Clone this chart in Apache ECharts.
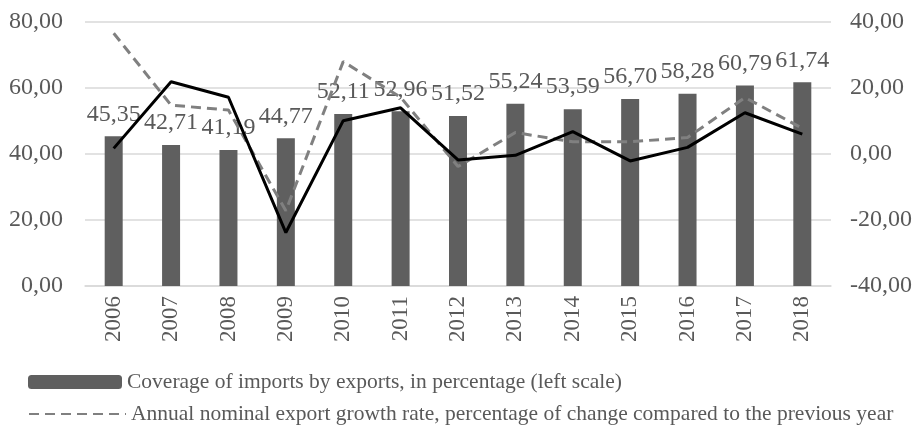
<!DOCTYPE html>
<html><head><meta charset="utf-8">
<script src="https://cdn.jsdelivr.net/npm/echarts@6/dist/echarts.min.js"></script>
<style>html,body{margin:0;padding:0;background:#fff}#c{width:916px;height:436px}</style>
</head><body><div id="c"></div>
<script>
const years = ['2006','2007','2008','2009','2010','2011','2012','2013','2014','2015','2016','2017','2018'];
const coverage = [45.35,42.71,41.19,44.77,52.11,52.96,51.52,55.24,53.59,56.70,58.28,60.79,61.74];
const exportGrowth = [36.6,14.8,13.3,-17.2,28.0,17.2,-3.8,6.5,3.7,3.7,5.0,17.1,7.8];
const importGrowth = [1.7,21.9,17.2,-23.8,10.1,14.0,-1.8,-0.4,6.8,-2.1,2.0,12.5,6.0];
const leftTicks = {min:0,max:80,interval:20};
const rightTicks = {min:-40,max:40,interval:20};
const names = ['Coverage of imports by exports, in percentage (left scale)',
  'Annual nominal export growth rate, percentage of change compared to the previous year',
  'Annual nominal import growth rate'];
const fmt = v => v.toFixed(2).replace('.', ',');
const FONT = '"Liberation Serif", "Times New Roman", serif';
const TXT = '#595959';
const legendText = {fontFamily:FONT,fontSize:21.5,color:TXT};
const chart = echarts.init(document.getElementById('c'));
chart.setOption({
  animation:false,
  textStyle:{fontFamily:FONT},
  grid:{left:85,right:85,top:22,bottom:150},
  legend:[
    {data:[names[0]],left:23,top:366,itemWidth:94,itemHeight:14,itemGap:6,textStyle:legendText},
    {data:[{name:names[1],itemStyle:{opacity:0}}],left:23,top:398,itemWidth:97,itemHeight:14,textStyle:legendText}
  ],
  xAxis:{type:'category',data:years,axisLine:{lineStyle:{color:'#d9d9d9',width:1.5}},axisTick:{show:false},
    axisLabel:{rotate:90,fontFamily:FONT,fontSize:23,color:TXT,margin:10}},
  yAxis:[
    {type:'value',...leftTicks,axisLabel:{formatter:fmt,fontFamily:FONT,fontSize:24,color:TXT,margin:22},
     splitLine:{lineStyle:{color:'#d9d9d9',width:1.5}},axisLine:{show:false},axisTick:{show:false}},
    {type:'value',...rightTicks,axisLabel:{formatter:fmt,fontFamily:FONT,fontSize:24,color:TXT,margin:19},
     splitLine:{show:false},axisLine:{show:false},axisTick:{show:false}}
  ],
  series:[
    {name:names[0],type:'bar',data:coverage,barWidth:18,itemStyle:{color:'#5f5f5f'},
     label:{show:true,position:'top',distance:10,formatter:p=>fmt(p.value),fontFamily:FONT,fontSize:24,color:TXT}},
    {name:names[1],type:'line',yAxisIndex:1,data:exportGrowth,symbol:'none',
     lineStyle:{color:'#808080',width:3,type:[10,6]},itemStyle:{color:'#808080'}},
    {name:names[2],type:'line',yAxisIndex:1,data:importGrowth,symbol:'none',
     lineStyle:{color:'#000000',width:3},itemStyle:{color:'#000'}}
  ]
});
</script></body></html>
